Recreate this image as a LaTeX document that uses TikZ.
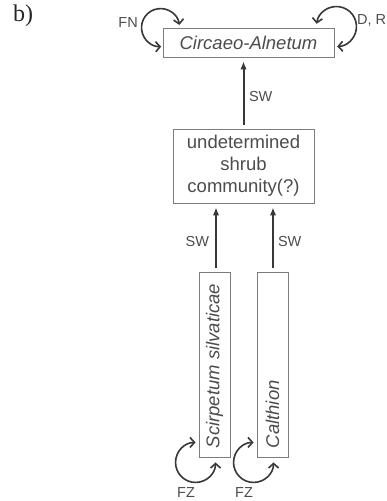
\documentclass[tikz,border=0pt]{standalone}
\usepackage{fontspec}
\setmainfont{Liberation Sans}
\newfontfamily\tagfont{Liberation Serif}
\usetikzlibrary{arrows.meta}
\definecolor{boxgray}{HTML}{7C7C7C}
\definecolor{txtgray}{HTML}{4C4C4C}
\definecolor{arrgray}{HTML}{383838}
\begin{document}
\begin{tikzpicture}[x=1pt,y=1pt,
  community/.style={draw=boxgray, line width=0.9pt, inner sep=0pt, text=txtgray,
    font=\fontsize{18.5}{22}\selectfont, align=center},
  vname/.style={rotate=90, anchor=west, inner sep=0pt, text=txtgray,
    font=\fontsize{18.5}{22}\selectfont\itshape},
  succ/.style={draw=arrgray, line width=2pt, -{Latex[length=8pt,width=6.5pt]},
    shorten <=4pt, shorten >=4pt},
  selfloop/.style={draw=arrgray, line width=1.6pt,
    {Straight Barb[length=4.5pt,width=10pt]}-{Straight Barb[length=4.5pt,width=10pt]}},
  lbl/.style={text=txtgray, font=\fontsize{14.5}{17}\selectfont, inner sep=0pt}]
\useasboundingbox (0,0) rectangle (387,501);

% panel tag
\node[anchor=base west, inner sep=0pt, text=black!85,
  font=\tagfont\fontsize{24}{28}\selectfont] (tag) at (13,479) {b)};

% communities
\node[community, minimum width=171, minimum height=29] (alnetum) at (248.5,458.5)
  {\itshape Circaeo-Alnetum};
\node[community, minimum width=141, minimum height=74] (shrub) at (243.5,335)
  {undetermined\\shrub\\community(?)};
\node[community, minimum width=31, minimum height=185] (scirp) at (214.5,136) {};
\node[community, minimum width=31, minimum height=185] (calth) at (272.5,136) {};
\node[vname] (scirpname) at ([yshift=9.5]scirp.south) {Scirpetum silvaticae};
\node[vname] (calthname) at ([yshift=9.5]calth.south) {Calthion};

% successions
\draw[succ] (shrub.north) -- (shrub.north |- alnetum.south)
  node[lbl, pos=.45, right=4.5pt] (sw1) {SW};
\draw[succ] ([xshift=1.5]scirp.north) -- ([xshift=1.5]scirp.north |- shrub.south)
  node[lbl, pos=.45, left=6pt] (sw2) {SW};
\draw[succ] ([xshift=0.5]calth.north) -- ([xshift=0.5]calth.north |- shrub.south)
  node[lbl, pos=.45, right=4pt] (sw3) {SW};

% self-maintaining loops
\draw[selfloop] ([shift={(16.8,2.6)}]alnetum.north west)
  arc[start angle=8, end angle=272, radius=19];
\draw[selfloop] ([shift={(-17.8,3.8)}]alnetum.north east)
  arc[start angle=172, end angle=-88, radius=20];
\draw[selfloop] ([shift={(-3,15.5)}]scirp.south west)
  arc[start angle=90, end angle=360, radius=20];
\draw[selfloop] ([shift={(-3,15.5)}]calth.south west)
  arc[start angle=90, end angle=360, radius=20];

% loop labels
\node[lbl, anchor=east] (fn) at (138,478) {FN};
\node[lbl, anchor=west] (dr) at (357,481) {D, R};
\node[lbl] (fz1) at ([shift={(-12.5,-34.5)}]scirp.south west) {FZ};
\node[lbl] (fz2) at ([shift={(-12.5,-34.5)}]calth.south west) {FZ};
\end{tikzpicture}
\end{document}
